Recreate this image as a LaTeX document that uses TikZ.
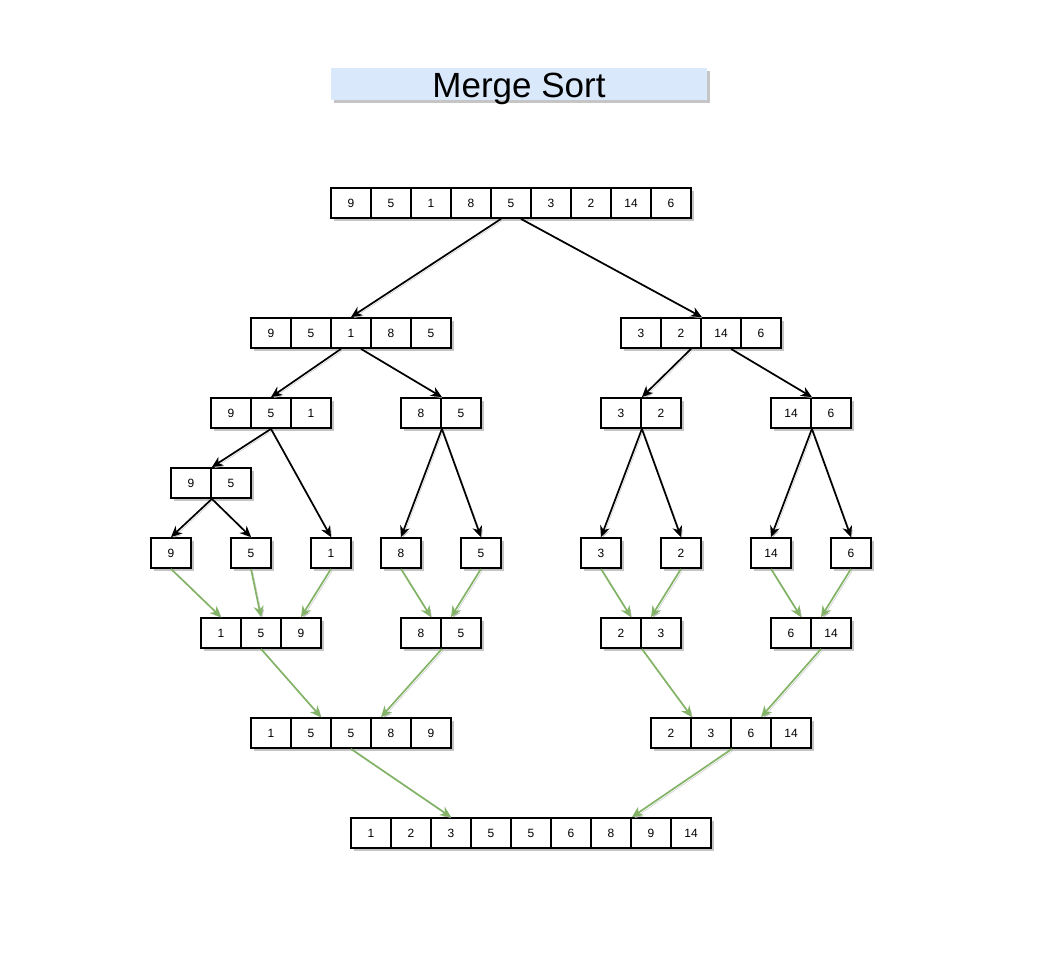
\documentclass[tikz,border=0pt]{standalone}
\usepackage{fontspec}
\setmainfont{Liberation Sans}
\usetikzlibrary{arrows.meta,shadows}
\definecolor{titleblue}{HTML}{DAE8FC}
\definecolor{mergegreen}{HTML}{82B366}

% one array of cells: name, x of first cell, y, values
\newcommand{\cellrow}[4]{%
  \foreach \v [count=\i] in {#4}
    \node[cell] (#1\i) at ({#2+(\i-1)*40},#3) {\v};}

\begin{document}
\begin{tikzpicture} [x=1pt,y=-1pt,
    cell/.style={rectangle, draw, line width=1.8pt, fill=white,
    minimum width=40pt, minimum height=30pt, inner sep=0pt,
    font=\fontsize{12}{14}\selectfont,
    drop shadow={shadow xshift=2.5pt,shadow yshift=-2.5pt,fill=black!45}},
    title/.style={rectangle, fill=titleblue, minimum width=376pt,
    minimum height=32pt, inner sep=0pt, text height=26pt, text depth=0pt,
    font=\fontsize{35}{38}\selectfont,
    drop shadow={shadow xshift=2.5pt,shadow yshift=-2.5pt,fill=black!45}},
    split/.style={-{Stealth[length=11pt,width=10pt,inset=3.5pt]}, line width=1.7pt,
    preaction={draw=black!25, transform canvas={xshift=1.5pt,yshift=-1.5pt}}},
    merge/.style={split, draw=mergegreen}
    ]
    \useasboundingbox (0,0) rectangle (1064,956);
    \node (ttl) [title] at (519,84) {Merge Sort};

    % splitting
    \cellrow{a}{351}{203}{9,5,1,8,5,3,2,14,6}
    \cellrow{b}{271}{333}{9,5,1,8,5}
    \cellrow{c}{641}{333}{3,2,14,6}
    \cellrow{d}{231}{413}{9,5,1}
    \cellrow{e}{421}{413}{8,5}
    \cellrow{f}{621}{413}{3,2}
    \cellrow{g}{791}{413}{14,6}
    \cellrow{h}{191}{483}{9,5}
    \node (s1) [cell] at (171,553) {9};
    \node (s2) [cell] at (251,553) {5};
    \node (s3) [cell] at (331,553) {1};
    \node (s4) [cell] at (401,553) {8};
    \node (s5) [cell] at (481,553) {5};
    \node (s6) [cell] at (601,553) {3};
    \node (s7) [cell] at (681,553) {2};
    \node (s8) [cell] at (771,553) {14};
    \node (s9) [cell] at (851,553) {6};

    % merging
    \cellrow{m}{221}{633}{1,5,9}
    \cellrow{n}{421}{633}{8,5}
    \cellrow{p}{621}{633}{2,3}
    \cellrow{q}{791}{633}{6,14}
    \cellrow{u}{271}{733}{1,5,5,8,9}
    \cellrow{v}{671}{733}{2,3,6,14}
    \cellrow{w}{371}{833}{1,2,3,5,5,6,8,9,14}

    \draw [split] ([xshift=-10pt]a5.south) -- (b3.north);
    \draw [split] ([xshift=10pt]a5.south) -- (c2.north east);
    \draw [split] ([xshift=-10pt]b3.south) -- (d2.north);
    \draw [split] ([xshift=10pt]b3.south) -- (e1.north east);
    \draw [split] ([xshift=10pt]c2.south) -- (f1.north east);
    \draw [split] ([xshift=10pt]c3.south) -- (g1.north east);
    \draw [split] (d2.south) -- (h1.north east);
    \draw [split] (d2.south) -- (s3.north);
    \draw [split] (h1.south east) -- (s1.north);
    \draw [split] (h1.south east) -- (s2.north);
    \draw [split] (e1.south east) -- (s4.north);
    \draw [split] (e1.south east) -- (s5.north);
    \draw [split] (f1.south east) -- (s6.north);
    \draw [split] (f1.south east) -- (s7.north);
    \draw [split] (g1.south east) -- (s8.north);
    \draw [split] (g1.south east) -- (s9.north);

    \draw [merge] (s1.south) -- (m1.north);
    \draw [merge] (s2.south) -- (m2.north);
    \draw [merge] (s3.south) -- (m3.north);
    \draw [merge] (s4.south) -- ([xshift=10pt]n1.north);
    \draw [merge] (s5.south) -- ([xshift=-10pt]n2.north);
    \draw [merge] (s6.south) -- ([xshift=10pt]p1.north);
    \draw [merge] (s7.south) -- ([xshift=-10pt]p2.north);
    \draw [merge] (s8.south) -- ([xshift=10pt]q1.north);
    \draw [merge] (s9.south) -- ([xshift=-10pt]q2.north);
    \draw [merge] (m2.south) -- ([xshift=10pt]u2.north);
    \draw [merge] (n1.south east) -- ([xshift=-10pt]u4.north);
    \draw [merge] (p1.south east) -- (v1.north east);
    \draw [merge] ([xshift=-10pt]q2.south) -- ([xshift=10pt]v3.north);
    \draw [merge] (u3.south) -- (w3.north);
    \draw [merge] (v2.south east) -- (w7.north east);
\end{tikzpicture}
\end{document}
